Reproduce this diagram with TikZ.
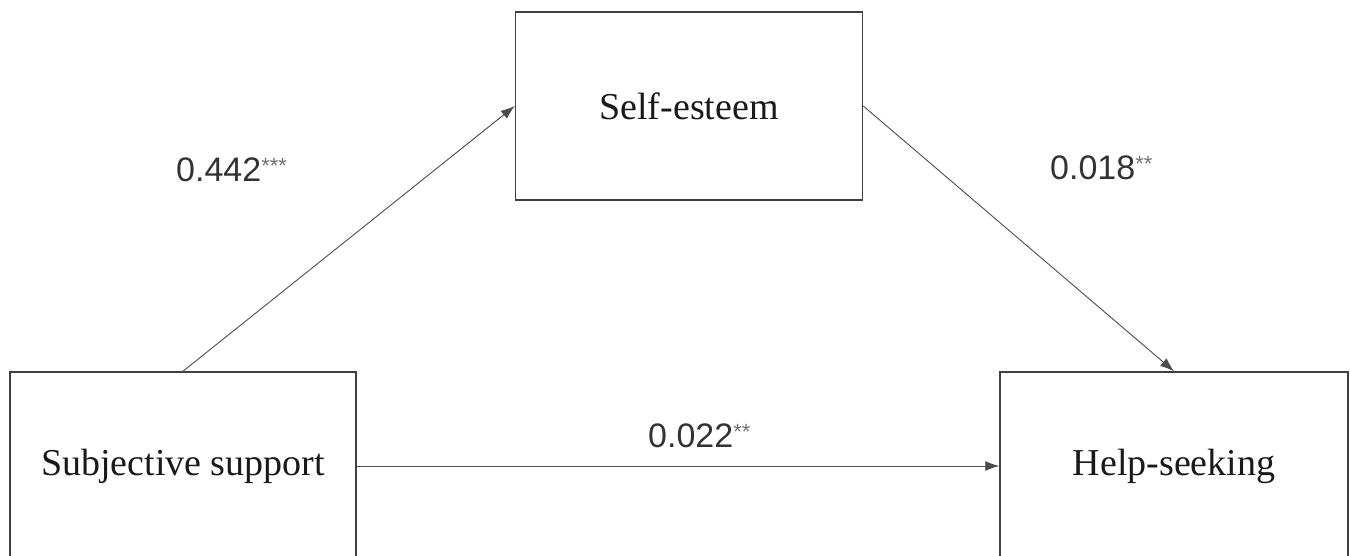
\documentclass[tikz,border=0pt]{standalone}
\usepackage{fontspec}
\setmainfont{Liberation Serif}
\newfontfamily\numfont{Liberation Sans}
\usetikzlibrary{arrows.meta}

\tikzset{
  box/.style={rectangle, draw=black!75, line width=1.5pt, minimum width=346pt, minimum height=188pt, font=\fontsize{38}{40}\selectfont, text=black!90},
  effect/.style={-{Latex[length=14pt,width=10pt]}, draw=black!70, line width=0.9pt},
  coef/.style={anchor=west, inner sep=0pt, font=\numfont\fontsize{34}{36}\selectfont, text=black!80}
}
\newcommand{\stars}[1]{\raisebox{8pt}{\fontsize{22}{22}\selectfont\color{black!55}#1}}

\begin{document}
\begin{tikzpicture}[x=1pt, y=-1pt]
	\useasboundingbox (0,0) rectangle (1350,556);
	\clip (0,0) rectangle (1350,556);

	% boxes
	\node[box, minimum width=347pt] (SE) at (689,106) {Self-esteem};
	\node[box] (SS) at (183,466) {Subjective support};
	\node[box, minimum width=348pt] (HS) at (1174,466) {Help-seeking};

	% paths
	\draw[effect] (SS.north) -- (SE.west);
	\draw[effect] (SE.east) -- (HS.north);
	\draw[effect] (SS.east) -- (HS.west);

	% coefficients
	\node[coef] (a) at (176,170) {0.442\stars{***}};
	\node[coef] (b) at (1050,168) {0.018\stars{**}};
	\node[coef] (c) at (648,436) {0.022\stars{**}};
\end{tikzpicture}
\end{document}
